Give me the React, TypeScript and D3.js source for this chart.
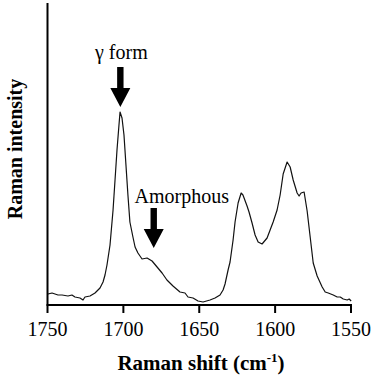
import * as d3 from "d3";

// Raman spectrum, wavenumber (cm-1) vs. intensity (a.u.)
const shift = [
  1749.7, 1747.0, 1743.1, 1740.4, 1736.5, 1733.9, 1731.9, 1728.6, 1726.6, 1725.3,
  1722.0, 1718.7, 1715.4, 1713.4, 1712.1, 1710.8, 1708.8, 1706.8, 1705.5, 1704.2,
  1702.9, 1702.2, 1700.9, 1699.6, 1698.3, 1697.0, 1695.7, 1693.7, 1692.3, 1690.4,
  1687.7, 1684.4, 1681.1, 1677.8, 1674.5, 1671.3, 1667.3, 1662.7, 1659.4, 1657.4,
  1654.1, 1650.8, 1647.5, 1642.9, 1639.6, 1636.3, 1634.3, 1633.0, 1631.0, 1629.7,
  1627.7, 1626.4, 1624.4, 1622.4, 1621.2, 1618.5, 1617.2, 1615.2, 1613.2, 1611.2,
  1608.6, 1605.3, 1603.3, 1601.3, 1598.7, 1596.7, 1594.7, 1592.1, 1590.1, 1588.1,
  1585.5, 1584.2, 1582.9, 1580.9, 1578.9, 1576.9, 1574.9, 1572.3, 1569.0, 1567.0,
  1565.0, 1561.7, 1559.1, 1557.1, 1555.1, 1552.5, 1551.2, 1549.9,
];
const intensity = [
  11, 12, 10, 10, 9, 10, 8, 7, 5, 8,
  9, 12, 17, 23, 30, 40, 60, 95, 125, 155,
  180, 193, 187, 170, 140, 110, 83, 68, 58, 52,
  46, 47, 44, 38, 32, 25, 19, 13, 12, 8,
  7, 4, 3, 5, 7, 10, 15, 21, 35, 43,
  65, 83, 102, 112, 110, 99, 93, 82, 70, 63,
  61, 67, 75, 83, 95, 110, 131, 143, 138, 125,
  112, 109, 112, 113, 94, 68, 42, 29, 18, 13,
  12, 10, 8, 8, 6, 5, 6, 4,
];

const xTicks = [1750, 1700, 1650, 1600, 1550];

// annotated bands: label and wavenumber the arrow points at
const bandLabels = ["γ form", "Amorphous"];
const bandShift = [1702, 1680];

const W = 375;
const H = 379;

const x = d3.scaleLinear().domain([1750, 1550]).range([47.5, 351]);
const y = d3.scaleLinear().domain([0, 302]).range([305, 3]);

type Pt = { s: number; v: number };
const data: Pt[] = shift.map((s, i) => ({ s, v: intensity[i] }));
const line = d3
  .line<Pt>()
  .x((d) => x(d.s))
  .y((d) => y(d.v));

// block arrow pointing down, tip at (cx, top + 40)
function arrow(cx: number, top: number) {
  return `M${cx - 3.2},${top}H${cx + 3.2}V${top + 21}H${cx + 10}L${cx},${top + 40}L${cx - 10},${top + 21}H${cx - 3.2}Z`;
}

const arrowTop = [67, 208];
const labelBase = [59, 203];
const labelDx = [1, 28];

const serif = (size: number, bold = false) => ({
  fontFamily: "Liberation Serif",
  fontSize: `${size}px`,
  fontWeight: bold ? 700 : 400,
});

export default function App() {
  const y0 = y(0);
  return (
    <svg width={W} height={H} style={{ position: "absolute", left: 0, top: 0, background: "#fff" }}>
      <path
        d={line(data) ?? ""}
        fill="none"
        stroke="#111"
        strokeWidth={1.2}
        strokeLinejoin="round"
      />

      {/* axes */}
      <line x1={x(1750)} x2={x(1750)} y1={y.range()[1]} y2={y0} stroke="#000" strokeWidth={2} />
      <line x1={x(1750) - 1} x2={x(1550) + 1} y1={y0} y2={y0} stroke="#000" strokeWidth={2} />
      {xTicks.map((t) => (
        <g key={t} transform={`translate(${x(t)},${y0})`}>
          <line y2={8} stroke="#000" strokeWidth={2} />
          <text y={31} textAnchor="middle" style={serif(20)}>
            {t}
          </text>
        </g>
      ))}

      {/* axis titles */}
      <text x={201} y={370} textAnchor="middle" style={serif(21, true)}>
        <tspan>Raman shift (cm</tspan>
        <tspan dy={-8} style={{ fontSize: "13px" }}>-1</tspan>
        <tspan dy={8}>)</tspan>
      </text>
      <text transform="translate(22,149) rotate(-90)" textAnchor="middle" style={serif(20, true)}>
        Raman intensity
      </text>

      {/* band annotations */}
      {bandShift.map((s, i) => (
        <g key={bandLabels[i]}>
          <path d={arrow(x(s), arrowTop[i])} fill="#000" />
          <text x={x(s) + labelDx[i]} y={labelBase[i]} textAnchor="middle" style={serif(20)}>
            {bandLabels[i]}
          </text>
        </g>
      ))}
    </svg>
  );
}
